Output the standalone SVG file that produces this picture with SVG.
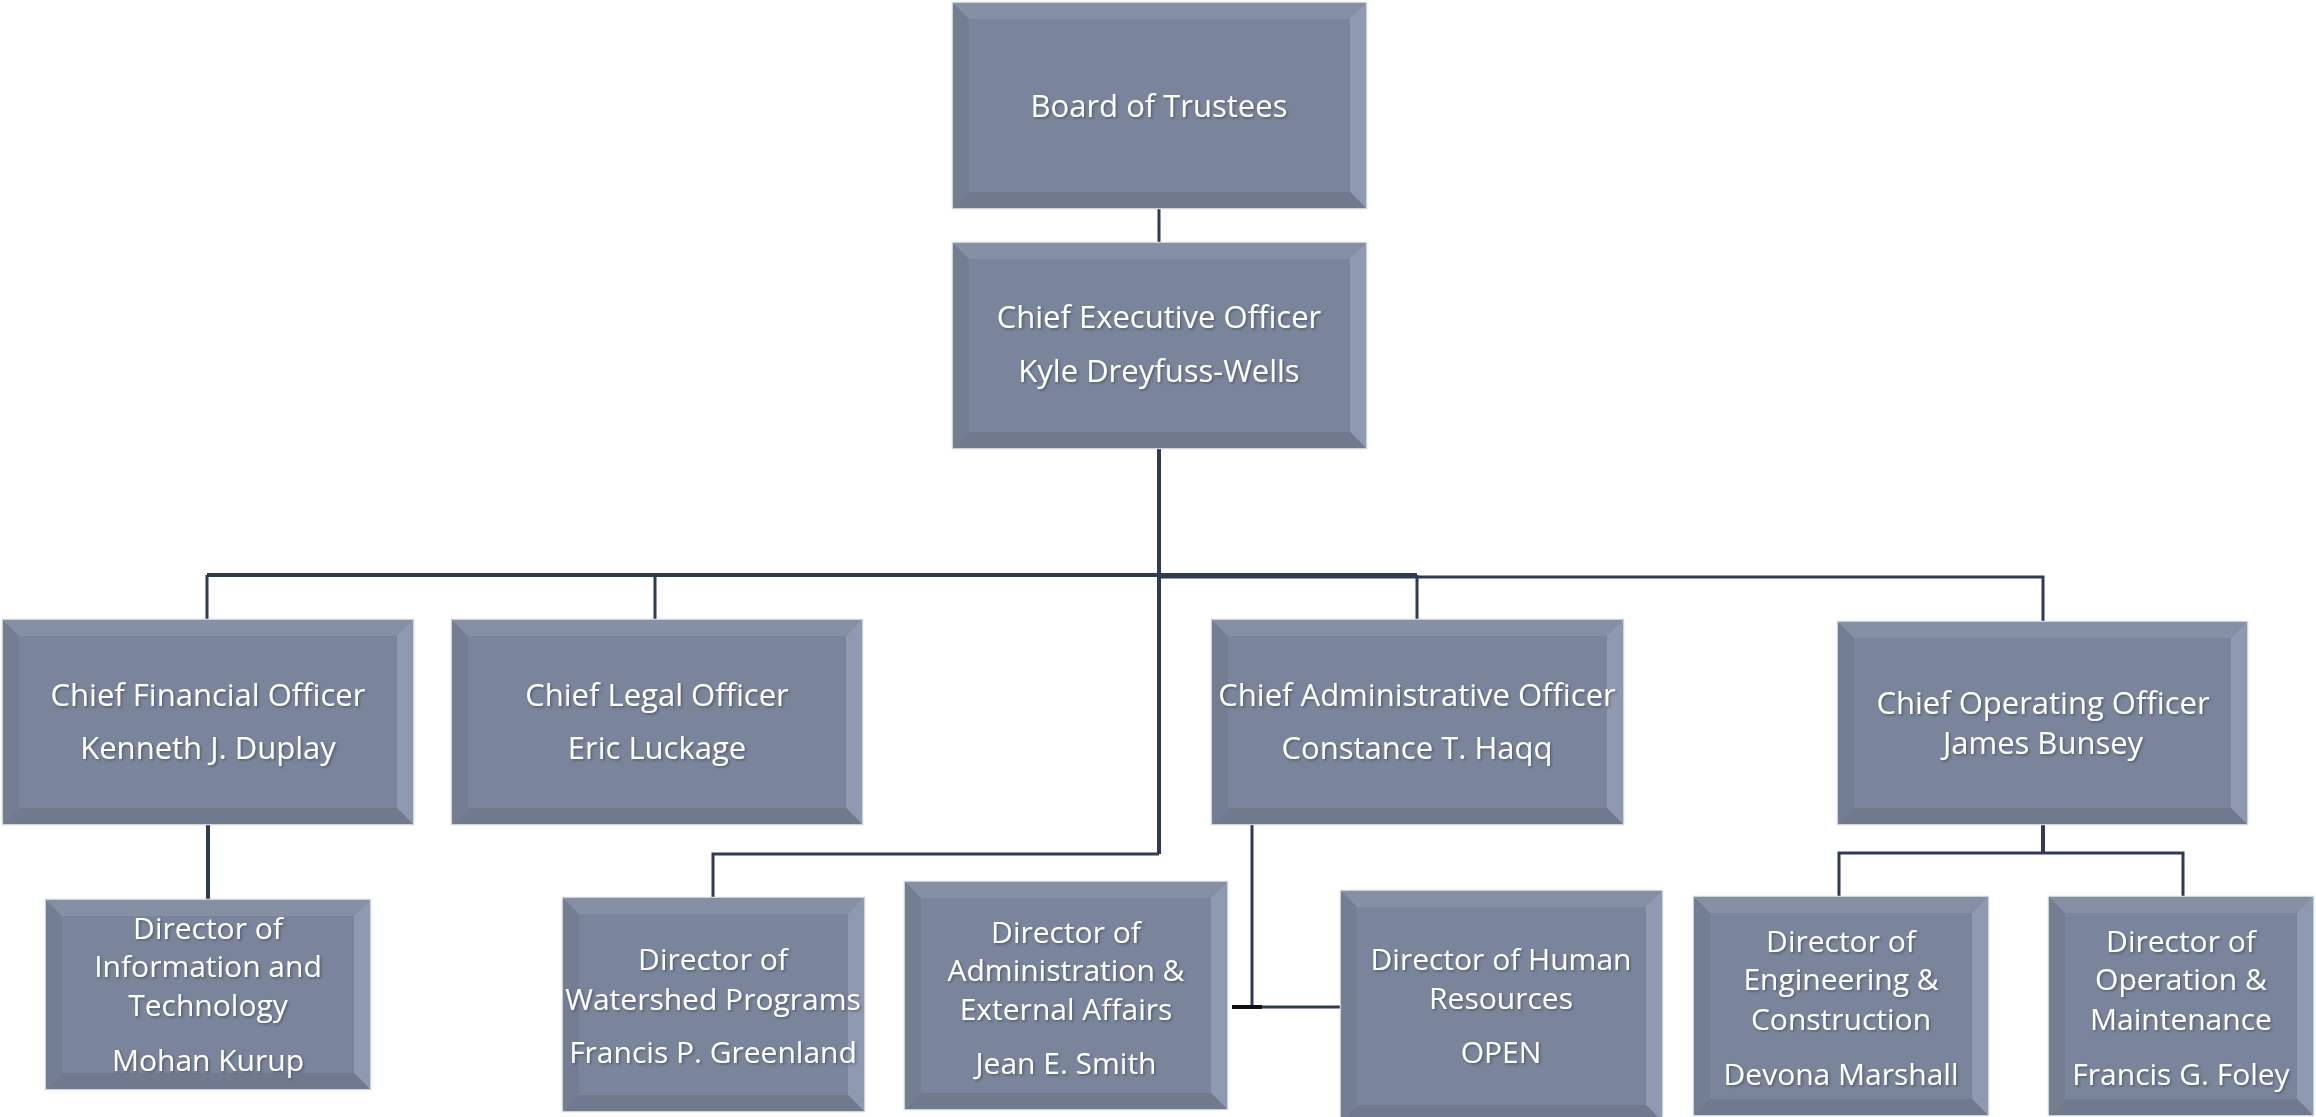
<svg xmlns="http://www.w3.org/2000/svg" width="2316" height="1117" viewBox="0 0 2316 1117">
<defs>
<filter id="ts" x="-10%" y="-30%" width="120%" height="160%">
<feDropShadow dx="1.5" dy="1.5" stdDeviation="1.2" flood-color="#2a3040" flood-opacity="0.5"/>
</filter>
<style>
.box{fill:#7a859b;stroke:#cdd2db;stroke-width:2.5}
.bt{fill:#8590a5}
.br{fill:#8f9ab1}
.bb{fill:#717a8d}
.bl{fill:#747e93}
.t{font-family:"Open Sans","Liberation Sans",sans-serif;font-size:31px;fill:#ffffff;text-anchor:middle;filter:url(#ts)}
.s{font-size:30px}
.c{fill:none;stroke:#2f3b52;stroke-width:3}
.ck{stroke-width:4}
</style>
</defs>
<rect width="2316" height="1117" fill="#ffffff"/>
<g id="connectors">
<path class="c" d="M1159 208V243"/>
<path class="c ck" d="M1159 448V854"/>
<path class="c" d="M1159 854H713V898"/>
<path class="c ck" d="M207 575H1417"/>
<path class="c" d="M1159 577H2043V622"/>
<path class="c" d="M207 575V620"/>
<path class="c" d="M655 575V620"/>
<path class="c" d="M1417 575V620"/>
<path class="c ck" d="M208 824V900"/>
<path class="c" d="M1252 824V1007"/>
<path class="c" d="M1232 1007H1341"/>
<path d="M1232 1007H1262" stroke="#111111" stroke-width="4"/>
<path class="c ck" d="M2043 824V853"/>
<path class="c" d="M1839 897V853H2183V897"/>
</g>
<g id="board">
<rect class="box" x="953" y="3" width="413" height="205"/>
<polygon class="bt" points="953,3 1366,3 1350,19 969,19"/>
<polygon class="br" points="1366,3 1366,208 1350,192 1350,19"/>
<polygon class="bb" points="953,208 1366,208 1350,192 969,192"/>
<polygon class="bl" points="953,3 953,208 969,192 969,19"/>
<text class="t" x="1159" y="117">Board of Trustees</text>
</g>
<g id="ceo">
<rect class="box" x="953" y="243" width="413" height="205"/>
<polygon class="bt" points="953,243 1366,243 1350,259 969,259"/>
<polygon class="br" points="1366,243 1366,448 1350,432 1350,259"/>
<polygon class="bb" points="953,448 1366,448 1350,432 969,432"/>
<polygon class="bl" points="953,243 953,448 969,432 969,259"/>
<text class="t" x="1159" y="328">Chief Executive Officer</text>
<text class="t" x="1159" y="382">Kyle Dreyfuss-Wells</text>
</g>
<g id="cfo">
<rect class="box" x="3" y="620" width="410" height="204"/>
<polygon class="bt" points="3,620 413,620 397,636 19,636"/>
<polygon class="br" points="413,620 413,824 397,808 397,636"/>
<polygon class="bb" points="3,824 413,824 397,808 19,808"/>
<polygon class="bl" points="3,620 3,824 19,808 19,636"/>
<text class="t" x="208" y="706">Chief Financial Officer</text>
<text class="t" x="208" y="759">Kenneth J. Duplay</text>
</g>
<g id="clo">
<rect class="box" x="452" y="620" width="410" height="204"/>
<polygon class="bt" points="452,620 862,620 846,636 468,636"/>
<polygon class="br" points="862,620 862,824 846,808 846,636"/>
<polygon class="bb" points="452,824 862,824 846,808 468,808"/>
<polygon class="bl" points="452,620 452,824 468,808 468,636"/>
<text class="t" x="657" y="706">Chief Legal Officer</text>
<text class="t" x="657" y="759">Eric Luckage</text>
</g>
<g id="cao">
<rect class="box" x="1212" y="620" width="411" height="204"/>
<polygon class="bt" points="1212,620 1623,620 1607,636 1228,636"/>
<polygon class="br" points="1623,620 1623,824 1607,808 1607,636"/>
<polygon class="bb" points="1212,824 1623,824 1607,808 1228,808"/>
<polygon class="bl" points="1212,620 1212,824 1228,808 1228,636"/>
<text class="t" x="1417" y="706">Chief Administrative Officer</text>
<text class="t" x="1417" y="759">Constance T. Haqq</text>
</g>
<g id="coo">
<rect class="box" x="1838" y="622" width="409" height="202"/>
<polygon class="bt" points="1838,622 2247,622 2231,638 1854,638"/>
<polygon class="br" points="2247,622 2247,824 2231,808 2231,638"/>
<polygon class="bb" points="1838,824 2247,824 2231,808 1854,808"/>
<polygon class="bl" points="1838,622 1838,824 1854,808 1854,638"/>
<text class="t" x="2043" y="714">Chief Operating Officer</text>
<text class="t" x="2043" y="754">James Bunsey</text>
</g>
<g id="dit">
<rect class="box" x="46" y="900" width="324" height="189"/>
<polygon class="bt" points="46,900 370,900 354,916 62,916"/>
<polygon class="br" points="370,900 370,1089 354,1073 354,916"/>
<polygon class="bb" points="46,1089 370,1089 354,1073 62,1073"/>
<polygon class="bl" points="46,900 46,1089 62,1073 62,916"/>
<text class="t s" x="208" y="939">Director of</text>
<text class="t s" x="208" y="977">Information and</text>
<text class="t s" x="208" y="1016">Technology</text>
<text class="t s" x="208" y="1071">Mohan Kurup</text>
</g>
<g id="watershed">
<rect class="box" x="563" y="898" width="301" height="213"/>
<polygon class="bt" points="563,898 864,898 848,914 579,914"/>
<polygon class="br" points="864,898 864,1111 848,1095 848,914"/>
<polygon class="bb" points="563,1111 864,1111 848,1095 579,1095"/>
<polygon class="bl" points="563,898 563,1111 579,1095 579,914"/>
<text class="t s" x="713" y="970">Director of</text>
<text class="t s" x="713" y="1010">Watershed Programs</text>
<text class="t s" x="713" y="1063">Francis P. Greenland</text>
</g>
<g id="admin">
<rect class="box" x="905" y="882" width="322" height="227"/>
<polygon class="bt" points="905,882 1227,882 1211,898 921,898"/>
<polygon class="br" points="1227,882 1227,1109 1211,1093 1211,898"/>
<polygon class="bb" points="905,1109 1227,1109 1211,1093 921,1093"/>
<polygon class="bl" points="905,882 905,1109 921,1093 921,898"/>
<text class="t s" x="1066" y="943">Director of</text>
<text class="t s" x="1066" y="981">Administration &amp;</text>
<text class="t s" x="1066" y="1020">External Affairs</text>
<text class="t s" x="1066" y="1074">Jean E. Smith</text>
</g>
<g id="hr">
<rect class="box" x="1341" y="891" width="321" height="230"/>
<polygon class="bt" points="1341,891 1662,891 1646,907 1357,907"/>
<polygon class="br" points="1662,891 1662,1121 1646,1105 1646,907"/>
<polygon class="bb" points="1341,1121 1662,1121 1646,1105 1357,1105"/>
<polygon class="bl" points="1341,891 1341,1121 1357,1105 1357,907"/>
<text class="t s" x="1501" y="970">Director of Human</text>
<text class="t s" x="1501" y="1009">Resources</text>
<text class="t s" x="1501" y="1063">OPEN</text>
</g>
<g id="eng">
<rect class="box" x="1694" y="897" width="294" height="218"/>
<polygon class="bt" points="1694,897 1988,897 1972,913 1710,913"/>
<polygon class="br" points="1988,897 1988,1115 1972,1099 1972,913"/>
<polygon class="bb" points="1694,1115 1988,1115 1972,1099 1710,1099"/>
<polygon class="bl" points="1694,897 1694,1115 1710,1099 1710,913"/>
<text class="t s" x="1841" y="952">Director of</text>
<text class="t s" x="1841" y="990">Engineering &amp;</text>
<text class="t s" x="1841" y="1030">Construction</text>
<text class="t s" x="1841" y="1085">Devona Marshall</text>
</g>
<g id="ops">
<rect class="box" x="2049" y="897" width="264" height="218"/>
<polygon class="bt" points="2049,897 2313,897 2297,913 2065,913"/>
<polygon class="br" points="2313,897 2313,1115 2297,1099 2297,913"/>
<polygon class="bb" points="2049,1115 2313,1115 2297,1099 2065,1099"/>
<polygon class="bl" points="2049,897 2049,1115 2065,1099 2065,913"/>
<text class="t s" x="2181" y="952">Director of</text>
<text class="t s" x="2181" y="990">Operation &amp;</text>
<text class="t s" x="2181" y="1030">Maintenance</text>
<text class="t s" x="2181" y="1085">Francis G. Foley</text>
</g>
</svg>
